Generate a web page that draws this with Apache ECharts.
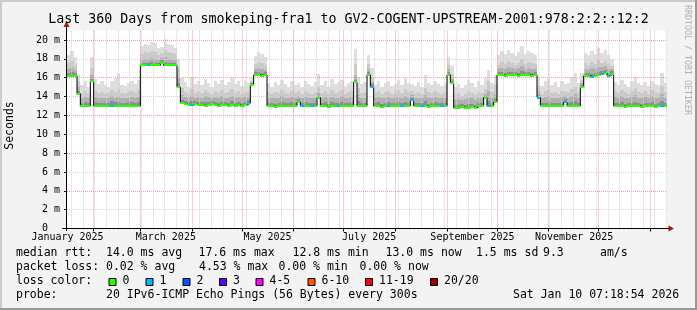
<!DOCTYPE html>
<html><head><meta charset="utf-8">
<script src="https://cdn.jsdelivr.net/npm/echarts@6/dist/echarts.min.js"></script>
<style>html,body{margin:0;padding:0;background:#f3f3f3}#c{width:697px;height:310px}</style>
</head><body><div id="c"></div>
<script>
// ---- data (2-day samples from 15 Jan 2025 07:18) ----
const sampleDays = 2;
const median = [
16.2,16.2,16.2,14.3,13.0,13.0,13.0,15.6,13.0,13.0,
13.0,13.0,13.0,13.0,13.0,13.0,13.0,13.0,13.0,13.0,
13.0,13.0,17.3,17.3,17.3,17.3,17.3,17.3,17.6,17.3,
17.3,17.3,17.3,15.0,13.3,13.2,13.1,13.1,13.2,13.1,
13.1,13.0,13.1,13.2,13.1,13.0,13.1,13.1,13.0,13.1,
13.0,13.1,13.0,13.1,13.3,15.2,16.3,16.3,16.2,16.3,
13.0,13.0,12.9,13.0,13.0,13.0,13.0,13.0,13.0,13.4,
13.0,13.0,13.0,13.0,13.0,13.9,13.0,13.0,12.9,13.0,
13.0,13.0,13.0,13.0,13.0,13.0,15.5,13.0,13.0,13.0,
16.3,15.0,13.0,13.0,12.9,13.0,13.0,13.0,13.0,13.0,
13.0,13.0,13.0,13.6,13.0,13.0,13.0,13.0,12.9,13.0,
13.0,13.0,13.0,13.0,16.3,15.4,12.8,12.8,12.9,12.8,
12.8,12.9,12.8,13.0,13.0,13.9,13.0,13.0,13.4,16.3,
16.3,16.2,16.3,16.3,16.3,16.2,16.3,16.3,16.3,16.2,
16.3,13.9,13.0,13.0,13.0,13.0,13.0,13.0,13.0,13.4,
13.0,13.0,13.0,13.0,15.0,16.2,16.2,16.1,16.2,16.3,
16.4,16.5,16.2,16.4,13.0,13.0,13.0,12.9,13.0,13.0,
13.0,13.0,12.9,13.0,13.0,13.0,12.9,13.0,13.0,13.0];
const smokeTop = [
18.4,18.8,18.2,16.4,15.2,15.6,15.0,18.2,15.9,15.3,
15.6,15.2,15.0,15.6,16.0,16.5,15.2,15.1,15.4,15.6,
15.3,15.8,19.4,19.6,19.5,19.8,19.7,19.2,19.3,20.1,
19.6,19.5,19.2,18.0,16.0,15.5,15.0,16.1,15.3,15.6,
15.2,15.9,15.4,15.0,15.7,15.3,15.8,15.2,15.5,16.0,
15.3,15.6,15.1,15.7,15.4,16.0,18.3,18.7,18.5,18.2,
15.4,15.0,15.5,15.2,15.8,15.3,15.0,15.6,15.2,15.4,
15.0,15.7,15.3,15.1,15.5,16.4,15.2,15.6,15.0,15.9,
15.3,15.5,15.8,15.1,15.4,15.6,19.1,16.1,15.3,15.5,
18.4,17.0,15.2,15.6,15.0,15.4,15.7,15.1,15.3,15.8,
15.2,16.0,15.4,15.3,15.1,15.5,15.0,16.3,15.4,15.2,
15.6,15.3,15.1,15.4,18.2,17.2,15.0,15.3,14.9,15.2,
15.8,15.4,15.0,15.6,15.2,16.0,16.8,15.4,16.3,18.4,
18.8,18.5,18.9,18.6,18.3,18.7,19.4,18.5,18.8,18.6,
18.4,16.0,15.1,15.6,15.9,15.2,15.5,15.0,15.7,15.3,
15.4,16.1,16.5,15.4,16.5,18.6,18.4,18.8,18.5,19.2,
18.6,18.9,18.4,18.0,15.5,15.2,15.8,15.3,15.0,15.6,
16.1,15.4,15.2,15.5,15.1,15.7,15.3,15.2,16.5,15.4];
const smokeUpper = [
17.6,17.8,17.4,15.6,14.4,14.6,14.3,17.0,14.6,14.4,
14.5,14.3,14.4,14.7,14.5,14.8,14.4,14.3,14.5,14.6,
14.4,14.7,18.5,18.7,18.6,18.8,18.7,18.4,18.6,18.9,
18.7,18.6,18.5,17.0,14.9,14.5,14.3,14.8,14.4,14.6,
14.4,14.7,14.5,14.3,14.6,14.4,14.7,14.4,14.5,14.8,
14.4,14.6,14.3,14.5,14.5,15.6,17.5,17.7,17.6,17.4,
14.5,14.3,14.5,14.4,14.7,14.4,14.3,14.6,14.4,14.6,
14.3,14.6,14.4,14.3,14.5,15.0,14.4,14.6,14.3,14.7,
14.4,14.5,14.7,14.3,14.5,14.6,17.5,14.9,14.4,14.5,
17.5,16.0,14.4,14.6,14.3,14.5,14.6,14.3,14.4,14.7,
14.4,14.8,14.5,14.6,14.3,14.5,14.3,14.9,14.5,14.4,
14.6,14.4,14.3,14.5,17.4,16.4,14.2,14.4,14.1,14.3,
14.6,14.4,14.2,14.5,14.4,14.8,15.6,14.5,15.2,17.4,
17.7,17.5,17.8,17.6,17.4,17.6,18.0,17.5,17.7,17.6,
17.5,15.2,14.3,14.6,14.7,14.4,14.5,14.3,14.6,14.5,
14.5,14.8,15.0,14.5,15.8,17.6,17.4,17.7,17.5,17.9,
17.6,17.8,17.5,17.2,14.6,14.4,14.7,14.5,14.3,14.6,
14.9,14.5,14.4,14.6,14.3,14.7,14.5,14.4,15.1,14.5];
const smokeMid = [
16.9,17.0,16.8,15.0,13.9,14.0,13.8,16.3,14.0,13.9,
13.9,13.8,13.9,14.1,13.9,14.1,13.9,13.8,13.9,14.0,
13.9,14.0,17.9,18.0,18.0,18.1,18.0,17.9,18.1,18.2,
18.0,18.0,17.9,16.0,14.2,14.0,13.8,14.1,13.9,14.0,
13.9,14.1,14.0,13.8,14.0,13.9,14.1,13.9,13.9,14.1,
13.9,14.0,13.8,14.0,14.0,15.4,16.9,17.0,16.9,16.8,
13.9,13.8,13.9,13.9,14.1,13.9,13.8,14.0,13.9,14.1,
13.8,14.0,13.9,13.8,13.9,14.4,13.9,14.0,13.8,14.0,
13.9,13.9,14.1,13.8,13.9,14.0,16.3,14.2,13.9,13.9,
16.9,15.5,13.9,14.0,13.8,13.9,14.0,13.8,13.9,14.1,
13.9,14.1,13.9,14.2,13.8,13.9,13.8,14.2,13.9,13.9,
14.0,13.9,13.8,13.9,16.9,15.9,13.6,13.7,13.6,13.7,
13.9,13.8,13.6,13.9,13.9,14.3,14.6,13.9,14.2,16.9,
17.0,16.9,17.1,17.0,16.9,17.0,17.2,16.9,17.0,16.9,
16.9,14.6,13.8,14.0,14.1,13.9,13.9,13.8,14.0,14.1,
13.9,14.1,14.3,13.9,15.4,16.9,16.8,17.0,16.9,17.1,
17.1,17.2,16.9,16.9,14.0,13.9,14.1,13.9,13.8,14.0,
14.2,13.9,13.8,14.0,13.8,14.1,13.9,13.8,14.3,13.9];
const smokeCore = [
16.5,16.6,16.5,14.6,13.3,13.4,13.3,15.9,13.4,13.3,
13.3,13.3,13.3,13.5,13.4,13.4,13.3,13.3,13.4,13.4,
13.3,13.4,17.6,17.6,17.6,17.7,17.6,17.6,17.9,17.7,
17.6,17.6,17.6,15.4,13.6,13.5,13.4,13.5,13.5,13.4,
13.4,13.4,13.4,13.5,13.4,13.3,13.4,13.4,13.3,13.5,
13.3,13.4,13.3,13.4,13.6,15.4,16.6,16.6,16.5,16.6,
13.3,13.3,13.2,13.3,13.4,13.3,13.3,13.4,13.3,13.7,
13.3,13.4,13.3,13.3,13.3,14.1,13.3,13.4,13.2,13.4,
13.3,13.3,13.4,13.3,13.3,13.4,15.8,13.5,13.3,13.3,
16.6,15.3,13.3,13.4,13.2,13.3,13.4,13.3,13.3,13.4,
13.3,13.4,13.3,13.9,13.3,13.3,13.3,13.5,13.2,13.3,
13.4,13.3,13.3,13.3,16.6,15.7,13.1,13.1,13.2,13.1,
13.2,13.2,13.1,13.3,13.3,14.1,13.5,13.3,13.7,16.6,
16.6,16.5,16.6,16.6,16.6,16.5,16.7,16.6,16.6,16.5,
16.6,14.2,13.3,13.3,13.4,13.3,13.3,13.3,13.3,13.7,
13.3,13.4,13.5,13.3,15.2,16.5,16.5,16.4,16.5,16.6,
16.7,16.8,16.5,16.7,13.3,13.3,13.4,13.2,13.3,13.3,
13.4,13.3,13.2,13.3,13.3,13.4,13.2,13.3,13.5,13.3];
const loss1Samples = [13,24,37,54,70,73,81,91,96,100,103,106,112,126,141,149,157,160,162,178];

const monthStarts = [16,44,75,105,136,166,197,228,258,289,319,350];
const monthLabelDays = [0.3,59.3,120.3,181.3,243.3,304.3];
const monthLabels = ['January 2025','March 2025','May 2025','July 2025','September 2025','November 2025'];
const weekGridFirst = 2.6, weekGridStep = 7;
const yTicks = [0,2,4,6,8,10,12,14,16,18,20];
const yTickLabels = ['0  ','2 m','4 m','6 m','8 m','10 m','12 m','14 m','16 m','18 m','20 m'];

const lossLegendLabels = ['0','1','2','3','4-5','6-10','11-19','20/20'];
const lossLegendColors = ['#26ff00','#00b8ff','#0059ff','#5e00ff','#ff00ff','#ff5500','#ff0000','#a10000'];

const titleText = 'Last 360 Days from smokeping-fra1 to GV2-COGENT-UPSTREAM-2001:978:2:2::12:2';
const statLine1 = [['median rtt:',16],['14.0 ms avg',106],['17.6 ms max',198.5],['12.8 ms min',292.5],['13.0 ms now',385.5],['1.5 ms sd',476],['9.3',543],['am/s',600]];
const statLine2 = [['packet loss:',16],['0.02 % avg',106],['4.53 % max',199],['0.00 % min',278.5],['0.00 % now',359.5]];
const statLine4 = [['probe:',16],['20 IPv6-ICMP Echo Pings (56 Bytes) every 300s',106],['Sat Jan 10 07:18:54 2026',513]];

// ---- build ----
const mono = 'DejaVu Sans Mono';
const chart = echarts.init(document.getElementById('c'), null, {renderer:'canvas'});

const smokeData = median.map((m,i)=>[i*sampleDays, m, smokeCore[i], smokeMid[i], smokeUpper[i], smokeTop[i]]);
const lineData = median.map((m,i)=>[i*sampleDays, m]);
lineData.push([median.length*sampleDays, median[median.length-1]]);
const lossData = median.map((m,i)=>[i*sampleDays, m, loss1Samples.indexOf(i)>=0 ? 1 : 0]);

const vGrid = [];
for (let d = weekGridFirst; d < 360; d += weekGridStep) vGrid.push([d, 0]);
monthStarts.forEach(d => vGrid.push([d, 1]));

function T(x, y, s, size, opts) {
  opts = opts || {};
  return {type:'text', x:x, y:y, rotation: opts.rotation || 0, silent:true, z:100,
    style:{text:s, fontFamily:mono, fontSize:size, fill: opts.fill || '#000',
      align: opts.align || 'left', textAlign: opts.align || 'left',
      verticalAlign:'middle', textVerticalAlign:'middle'}};
}
const graphics = [];
// border shading
graphics.push({type:'rect', shape:{x:0,y:0,width:697,height:2}, style:{fill:'#cbcbcb'}, silent:true});
graphics.push({type:'rect', shape:{x:0,y:0,width:2,height:310}, style:{fill:'#cbcbcb'}, silent:true});
graphics.push({type:'rect', shape:{x:0,y:308,width:697,height:2}, style:{fill:'#999'}, silent:true});
graphics.push({type:'rect', shape:{x:695,y:0,width:2,height:310}, style:{fill:'#999'}, silent:true});
graphics.push(T(348.5, 19.7, titleText, 13.3, {align:'center'}));
graphics.push(T(10.5, 125.5, 'Seconds', 11.5, {align:'center', rotation: Math.PI/2}));
graphics.push(T(687, 5, 'RRDTOOL / TOBI OETIKER', 8.3, {align:'left', rotation: -Math.PI/2, fill:'#b0b0b0'}));
// axes lines + arrows
graphics.push({type:'line', shape:{x1:62, y1:228.5, x2:670, y2:228.5}, style:{stroke:'#000', lineWidth:1}, silent:true, z:50});
graphics.push({type:'line', shape:{x1:66.5, y1:231, x2:66.5, y2:25}, style:{stroke:'#000', lineWidth:1}, silent:true, z:50});
graphics.push({type:'polygon', shape:{points:[[66.5,21],[63.5,27],[69.5,27]]}, style:{fill:'#a01818'}, silent:true, z:51});
graphics.push({type:'polygon', shape:{points:[[674,228.5],[668.5,225.5],[668.5,231.5]]}, style:{fill:'#a01818'}, silent:true, z:51});
// legend lines
const ly = [253.3, 267.3, 281.3, 295.3];
statLine1.forEach(([s,x]) => graphics.push(T(x, ly[0], s, 11.5)));
statLine2.forEach(([s,x]) => graphics.push(T(x, ly[1], s, 11.5)));
graphics.push(T(16, ly[2], 'loss color:', 11.5));
const boxX = [108.5, 145.5, 182.5, 219, 255.5, 307.5, 365, 430];
lossLegendLabels.forEach((s, k) => {
  graphics.push({type:'rect', shape:{x:boxX[k]+0.5, y:278.5, width:7, height:7}, style:{fill:lossLegendColors[k], stroke:'#000', lineWidth:1}, silent:true});
  graphics.push(T(boxX[k] + 14, ly[2], s, 11.5));
});
statLine4.forEach(([s,x]) => graphics.push(T(x, ly[3], s, 11.5)));

const option = {
  animation: false,
  backgroundColor: '#f3f3f3',
  grid: {left:67, top:30.6, width:600, height:197.9, show:true, backgroundColor:'#ffffff', borderWidth:0},
  xAxis: {type:'value', min:0, max:360, z:2,
    axisLine:{show:false},
    axisTick:{show:true, customValues: monthStarts, length:3, lineStyle:{color:'#000'}},
    axisLabel:{show:true, customValues: monthLabelDays, margin:4, fontFamily:mono, fontSize:10, color:'#000',
      formatter: v => { const k = monthLabelDays.indexOf(v); return k >= 0 ? monthLabels[k] : ''; }},
    splitLine:{show:false}},
  yAxis: {type:'value', min:0, max:21, interval:1, z:2,
    axisLine:{show:false},
    axisTick:{show:true, customValues: yTicks, length:3, lineStyle:{color:'#000'}},
    axisLabel:{show:true, customValues: yTicks, margin:7, fontFamily:mono, fontSize:10, color:'#000',
      formatter: v => { const k = yTicks.indexOf(v); return k >= 0 ? yTickLabels[k] : ''; }},
    splitLine:{show:true, lineStyle:{color:['#f2a0a0','#d2d2d2'], width:1, type:[1,1]}}},
  graphic: graphics,
  series: [
    {type:'custom', z:1, data: smokeData, encode:{x:0, y:1}, silent:true,
      renderItem: (params, api) => {
        const d0 = api.value(0);
        const xL = Math.round(api.coord([d0, 0])[0]);
        const xR = Math.round(api.coord([d0 + sampleDays, 0])[0]);
        const yb = Math.round(api.coord([0, api.value(1)])[1]);
        const levels = [[5,'#dedede'],[4,'#cacaca'],[3,'#b0b0b0'],[2,'#8e8e8e']];
        const children = levels.map(([k,c]) => {
          const yt = Math.round(api.coord([0, api.value(k)])[1]);
          return {type:'rect', shape:{x:xL, y:yt, width:xR-xL, height:Math.max(0, yb-yt)}, style:{fill:c}};
        });
        return {type:'group', children};
      }},
    {type:'custom', z:2, data: vGrid, encode:{x:0}, silent:true,
      renderItem: (params, api) => {
        const cs = params.coordSys;
        const x = Math.floor(api.coord([api.value(0), 0])[0]) + 0.5;
        return {type:'line', shape:{x1:x, y1:cs.y, x2:x, y2:cs.y+cs.height},
          style:{stroke: api.value(1) ? '#f2a0a0' : '#d2d2d2', lineWidth:1, lineDash:[1,1]}};
      }},
    {type:'line', z:3, data: lineData, step:'end', showSymbol:false, silent:true,
      lineStyle:{color:'#000', width:1}},
    {type:'custom', z:4, data: lossData, encode:{x:0, y:1}, silent:true,
      renderItem: (params, api) => {
        const d0 = api.value(0);
        const xL = Math.round(api.coord([d0, 0])[0]);
        const xR = Math.round(api.coord([d0 + sampleDays, 0])[0]);
        const y = Math.round(api.coord([0, api.value(1)])[1]);
        return {type:'rect', shape:{x:xL, y:y-1, width:xR-xL, height:2},
          style:{fill: lossLegendColors[api.value(2)]}};
      }}
  ]
};
chart.setOption(option);
</script></body></html>
